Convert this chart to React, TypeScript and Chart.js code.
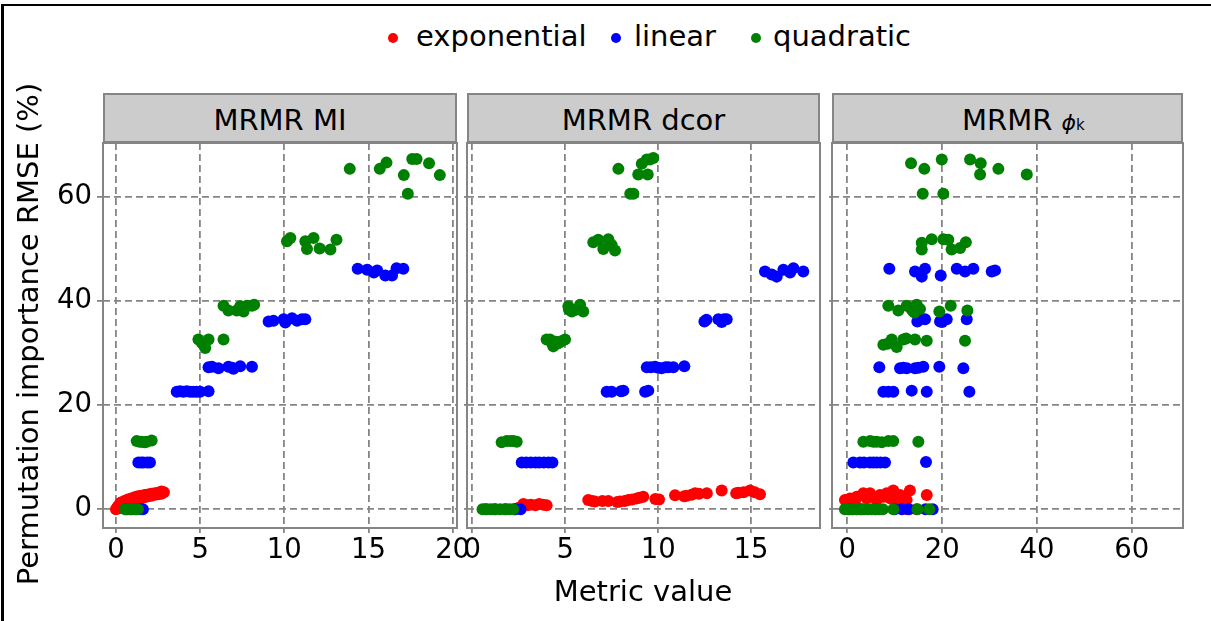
import React, { useEffect, useRef } from 'react';
import { Chart, registerables } from 'chart.js';

Chart.register(...registerables);

// ---------- data ----------
const seriesNames = ['exponential', 'linear', 'quadratic'];
const seriesColors = ['#ff0000', '#0000ff', '#008000'];

const yTicks = [0, 20, 40, 60];
const miXTicks = [0, 5, 10, 15, 20];
const dcorXTicks = [0, 5, 10, 15];
const phikXTicks = [0, 20, 40, 60];

const miExponential = [
  [0.0, 0.0], [0.1, 0.5], [0.2, 0.9], [0.2, 0.2], [0.3, 1.3], [0.3, 0.5], [0.5, 1.6], [0.5, 0.8],
  [0.7, 1.9], [0.7, 1.1], [0.9, 2.1], [0.9, 1.3], [1.1, 2.3], [1.1, 1.6], [1.3, 2.5], [1.3, 1.9],
  [1.5, 2.6], [1.5, 2.1], [1.7, 2.75], [1.7, 2.3], [1.9, 2.85], [1.9, 2.5], [2.1, 3.0], [2.1, 2.6],
  [2.3, 3.1], [2.3, 2.8], [2.5, 3.2], [2.5, 2.9], [2.7, 3.4], [2.7, 3.0], [2.85, 3.3],
];
const miLinear = [
  [0.6, 0], [0.9, 0], [1.2, 0], [1.45, 0], [1.6, 0],
  [1.33, 9.0], [1.5, 9.0], [1.63, 9.0], [1.85, 9.0], [2.02, 9.0],
  [3.61, 22.6], [3.8, 22.7], [4.0, 22.6], [4.2, 22.7], [4.4, 22.6], [4.6, 22.6], [4.8, 22.6], [5.0, 22.6], [5.5, 22.7],
  [5.5, 27.3], [5.7, 27.4], [6.09, 27.1], [6.68, 27.4], [6.9, 27.2], [6.98, 27.0], [7.38, 27.5], [8.08, 27.4],
  [9.07, 36.1], [9.36, 36.2], [9.96, 36.5], [10.06, 35.9], [10.46, 36.7], [10.76, 36.2], [11.05, 36.5], [11.25, 36.5],
  [14.36, 46.2], [14.92, 46.0], [15.32, 45.5], [15.52, 45.9], [16.0, 44.9], [16.4, 44.9], [16.67, 46.3], [17.07, 46.2],
];
const miQuadratic = [
  [0.55, 0], [0.7, 0], [0.85, 0], [1.0, 0], [1.15, 0], [1.3, 0],
  [1.23, 13.1], [1.4, 13.0], [1.53, 13.0], [1.7, 12.9], [1.83, 13.0], [2.12, 13.2],
  [4.9, 32.6], [5.1, 32.0], [5.2, 31.6], [5.3, 31.0], [5.5, 32.6], [6.39, 32.6],
  [6.39, 39.1], [6.68, 38.2], [7.18, 38.2], [7.38, 39.0], [7.58, 38.0], [7.78, 39.1], [8.08, 39.1], [8.21, 39.3],
  [10.16, 51.5], [10.36, 52.1], [11.25, 51.5], [11.35, 50.0], [11.74, 52.1], [12.1, 50.1], [12.74, 49.9], [13.1, 51.8],
  [13.89, 65.4], [15.67, 65.4], [16.07, 66.6], [17.1, 64.2], [17.6, 67.3], [17.86, 67.3], [18.6, 66.5], [19.24, 64.2], [17.34, 60.6],
];

const dcorExponential = [
  [2.3, 0], [2.5, 0.3], [2.75, 1.0], [2.95, 0.8], [3.15, 0.9], [3.4, 0.8], [3.6, 1.0], [3.8, 0.9], [4.0, 0.8],
  [6.24, 1.8], [6.45, 1.6], [6.6, 1.5], [7.0, 1.6], [7.32, 1.6], [7.8, 1.4], [7.95, 1.5], [8.2, 1.6], [8.4, 1.8],
  [8.6, 1.9], [8.85, 2.1], [9.0, 2.2], [9.2, 2.4], [9.85, 2.0], [10.05, 1.9], [10.91, 2.7], [11.4, 2.5],
  [11.54, 2.6], [11.8, 2.8], [11.99, 3.1], [12.2, 3.0], [12.62, 3.1], [13.42, 3.6], [14.2, 3.1], [14.32, 3.2],
  [14.6, 3.3], [14.95, 3.6], [15.2, 3.3], [15.48, 2.9],
];
const dcorLinear = [
  [0.7, 0], [1.2, 0], [1.8, 0], [2.3, 0], [2.6, 0],
  [2.66, 9.0], [2.9, 9.0], [3.15, 9.0], [3.4, 9.0], [3.6, 9.0], [3.85, 9.0], [4.1, 9.0], [4.31, 9.0],
  [7.23, 22.6], [7.5, 22.6], [8.0, 22.7], [8.13, 22.8], [9.3, 22.6], [9.47, 22.8],
  [9.39, 27.3], [9.6, 27.3], [9.83, 27.4], [10.0, 27.2], [10.19, 27.1], [10.4, 27.3], [10.55, 27.3], [10.82, 27.3], [11.41, 27.5],
  [12.49, 36.1], [12.6, 36.4], [13.24, 36.5], [13.42, 36.0], [13.55, 36.5], [13.69, 36.5],
  [15.75, 45.7], [16.11, 45.1], [16.38, 44.7], [16.74, 46.0], [17.1, 45.5], [17.28, 46.3], [17.81, 45.7],
];
const dcorQuadratic = [
  [0.55, 0], [0.8, 0], [1.0, 0], [1.25, 0], [1.5, 0], [1.75, 0], [2.0, 0], [2.2, 0],
  [1.58, 12.9], [1.85, 13.1], [2.05, 13.1], [2.21, 13.1], [2.39, 13.0],
  [4.0, 32.6], [4.18, 32.6], [4.3, 31.9], [4.36, 31.3], [4.5, 32.2], [4.63, 31.9], [4.8, 32.3], [4.99, 32.6],
  [5.17, 39.0], [5.2, 38.4], [5.35, 38.0], [5.53, 38.3], [5.8, 39.3], [5.97, 38.0],
  [6.51, 51.3], [6.78, 51.8], [7.05, 50.0], [7.32, 51.9], [7.5, 50.8], [7.68, 49.7],
  [7.86, 65.4], [8.5, 60.6], [8.67, 60.6], [8.93, 64.3], [9.12, 66.4], [9.39, 67.2], [9.44, 64.3], [9.56, 67.2], [9.74, 67.5],
];

const phikExponential = [
  [0, 0], [1, 0], [2, 0], [12.5, 0], [14.6, 0],
  [-0.5, 1.8], [0.57, 2.1], [1.6, 1.5], [1.98, 2.4], [3.38, 3.1], [4.1, 2.1], [4.79, 3.1], [5.5, 2.4],
  [6.2, 1.8], [6.9, 2.75], [7.6, 2.4], [8.31, 3.1], [9.0, 2.1], [9.7, 3.6], [10.4, 1.5], [11.1, 2.75],
  [11.8, 2.4], [12.5, 1.8], [13.2, 3.6], [16.75, 2.75],
];
const phikLinear = [
  [0.5, 0], [3, 0], [6, 0], [10, 0], [11.5, 0], [13, 0], [16.5, 0], [18.0, 0],
  [1.27, 9.0], [2.68, 9.0], [3.5, 9.0], [4.79, 9.0], [5.5, 9.0], [6.2, 9.0], [7.0, 9.0], [7.95, 9.0], [16.6, 9.1],
  [7.6, 22.6], [8.65, 22.6], [9.7, 22.6], [13.58, 22.8], [16.75, 22.6], [25.74, 22.6],
  [6.75, 27.3], [11.12, 27.1], [11.8, 27.2], [12.53, 27.1], [14.28, 27.1], [15.0, 27.2], [16.03, 27.4], [19.41, 27.4], [24.47, 27.1],
  [14.77, 36.1], [15.5, 36.6], [16.39, 36.5], [19.56, 36.1], [20.0, 36.0], [20.97, 36.5], [25.19, 36.5],
  [8.86, 46.2], [14.28, 45.7], [15.7, 44.7], [16.39, 46.2], [19.7, 44.9], [23.08, 46.2], [24.83, 45.7], [26.58, 46.2], [30.46, 45.7], [31.16, 45.9],
];
const phikQuadratic = [
  [-0.5, 0], [0.3, 0], [1.1, 0], [1.9, 0], [2.7, 0], [3.5, 0], [4.3, 0], [5.1, 0], [5.9, 0], [6.7, 0], [7.5, 0], [9.7, 0], [14.8, 0], [17.3, 0],
  [3.38, 13.0], [4.79, 13.1], [5.5, 13.0], [6.2, 13.0], [7.26, 12.9], [8.65, 13.1], [9.7, 13.1], [14.98, 13.0],
  [7.6, 31.6], [8.5, 31.8], [9.37, 32.6], [10.42, 31.2], [11.81, 32.6], [12.4, 32.8], [14.28, 32.6], [16.75, 32.4], [24.83, 32.4],
  [8.65, 39.1], [10.76, 38.2], [12.53, 39.1], [13.5, 38.5], [13.92, 38.0], [14.2, 37.8], [14.63, 39.3], [15.33, 38.5], [19.41, 38.0], [21.81, 39.1], [25.32, 38.2],
  [15.7, 51.2], [15.7, 49.9], [17.8, 51.9], [20.25, 51.9], [21.3, 51.8], [22.0, 49.9], [23.8, 50.2], [25.0, 51.3],
  [13.44, 66.5], [16.24, 65.4], [19.92, 67.2], [20.25, 60.6], [15.91, 60.6], [25.89, 67.2], [28.14, 66.5], [28.0, 64.3], [31.86, 65.4], [37.85, 64.3],
];

// ---------- layout / style ----------
const W = 1211;
const H = 621;
const PLOT_TOP = 143;
const PLOT_BOTTOM = 528;
const Y_MIN = -3.59;
const Y_MAX = 70.37;
const GRID = '#858585';
const FONT = '"DejaVu Sans", "Liberation Sans", sans-serif';

const panels = [
  { left: 103, right: 457, xMin: -0.77, xMax: 20.26, xTicks: miXTicks, series: [miExponential, miLinear, miQuadratic], showY: true },
  { left: 467, right: 820, xMin: -0.285, xMax: 18.71, xTicks: dcorXTicks, series: [dcorExponential, dcorLinear, dcorQuadratic], showY: false },
  { left: 832, right: 1183, xMin: -3.23, xMax: 70.8, xTicks: phikXTicks, series: [phikExponential, phikLinear, phikQuadratic], showY: false },
];

const framePlugin = {
  id: 'panelFrame',
  afterDatasetsDraw(chart: any) {
    const { ctx, chartArea } = chart;
    ctx.save();
    ctx.strokeStyle = GRID;
    ctx.lineWidth = 2;
    ctx.setLineDash([]);
    ctx.strokeRect(chartArea.left, chartArea.top, chartArea.right - chartArea.left, chartArea.bottom - chartArea.top);
    ctx.restore();
  },
};

function makeChart(canvas: HTMLCanvasElement, p: any) {
  const order = [3, 2, 1];
  return new Chart(canvas, {
    type: 'scatter',
    data: {
      datasets: p.series.map((s: number[][], i: number) => ({
        label: seriesNames[i],
        data: s.map(([x, y]) => ({ x, y })),
        backgroundColor: seriesColors[i],
        borderColor: seriesColors[i],
        pointRadius: 6,
        pointHoverRadius: 6,
        pointBorderWidth: 0,
        order: order[i],
      })),
    },
    options: {
      animation: false,
      responsive: false,
      events: [],
      layout: {
        padding: { left: p.showY ? 50 : p.left, right: W - p.right, top: PLOT_TOP, bottom: H - PLOT_BOTTOM - 50 },
      },
      plugins: { legend: { display: false }, tooltip: { enabled: false }, title: { display: false } },
      scales: {
        x: {
          type: 'linear',
          min: p.xMin,
          max: p.xMax,
          afterBuildTicks: (axis: any) => { axis.ticks = p.xTicks.map((v: number) => ({ value: v })); },
          afterFit: (axis: any) => { axis.height = 50; axis.paddingLeft = 0; axis.paddingRight = 0; },
          grid: { color: GRID, lineWidth: 1.8, tickLength: 5, tickColor: GRID, tickWidth: 1.8 },
          border: { display: false, dash: [7, 4] },
          ticks: { font: { family: FONT, size: 27.5 }, color: '#000', padding: 1, maxRotation: 0, autoSkip: false },
        },
        y: {
          type: 'linear',
          min: Y_MIN,
          max: Y_MAX,
          afterBuildTicks: (axis: any) => { axis.ticks = yTicks.map((v) => ({ value: v })); },
          afterFit: (axis: any) => { axis.width = p.showY ? 53 : 0; },
          grid: { color: GRID, lineWidth: 1.8, tickLength: p.showY ? 6 : 3, tickColor: GRID, tickWidth: 1.8 },
          border: { display: false, dash: [7, 4] },
          ticks: { display: p.showY, font: { family: FONT, size: 27.5 }, color: '#000', padding: 5, autoSkip: false },
        },
      },
    },
    plugins: [framePlugin],
  } as any);
}

export default function App() {
  const r0 = useRef<HTMLCanvasElement>(null);
  const r1 = useRef<HTMLCanvasElement>(null);
  const r2 = useRef<HTMLCanvasElement>(null);

  useEffect(() => {
    const refs = [r0, r1, r2];
    const charts = panels.map((p, i) => makeChart(refs[i].current as HTMLCanvasElement, p));
    return () => charts.forEach((c) => c.destroy());
  }, []);

  const canvasStyle: React.CSSProperties = { position: 'absolute', left: 0, top: 0, width: W, height: H };
  const textBase: React.CSSProperties = {
    position: 'absolute', fontFamily: FONT, fontSize: 29, lineHeight: '29px', color: '#000', whiteSpace: 'nowrap',
  };
  const stripStyle = (l: number, r: number): React.CSSProperties => ({
    position: 'absolute', left: l, top: 93, width: r - l, height: PLOT_TOP - 93, boxSizing: 'border-box',
    background: '#cccccc', border: `2px solid ${GRID}`,
  });
  const legendDot = (cx: number, color: string): React.CSSProperties => ({
    position: 'absolute', left: cx - 5, top: 33, width: 10, height: 10, borderRadius: '50%', background: color,
  });
  const legendTextLeft = [416, 634, 773];
  const legendDotX = [393, 616, 756];

  return (
    <div style={{ position: 'absolute', left: 0, top: 0, width: W, height: H, background: '#fff', overflow: 'hidden' }}>
      <div style={{ position: 'absolute', left: 1, top: 4, width: 2.5, height: H - 4, background: '#000' }} />
      <div style={{ position: 'absolute', left: 1, top: 4, width: W - 1, height: 2, background: '#000' }} />

      {seriesNames.map((n, i) => (
        <React.Fragment key={n}>
          <div style={legendDot(legendDotX[i], seriesColors[i])} />
          <div style={{ ...textBase, left: legendTextLeft[i], top: 22 }}>{n}</div>
        </React.Fragment>
      ))}

      <div style={stripStyle(103, 457)} />
      <div style={stripStyle(467, 820)} />
      <div style={stripStyle(832, 1183)} />
      <div style={{ ...textBase, left: 103, width: 354, textAlign: 'center', top: 105.5 }}>MRMR MI</div>
      <div style={{ ...textBase, left: 467, width: 353, textAlign: 'center', top: 105.5 }}>MRMR dcor</div>
      <div style={{ ...textBase, left: 962, top: 105.5 }}>
        MRMR <span style={{ fontStyle: 'italic', fontSize: 22 }}>ϕ</span>
        <span style={{ fontSize: 15 }}>k</span>
      </div>

      <canvas ref={r0} width={W} height={H} style={canvasStyle} />
      <canvas ref={r1} width={W} height={H} style={canvasStyle} />
      <canvas ref={r2} width={W} height={H} style={canvasStyle} />

      <div style={{ ...textBase, left: 103, width: 1080, textAlign: 'center', top: 577 }}>Metric value</div>
      <div
        style={{
          ...textBase, left: 13.8, top: 634, width: 600, textAlign: 'center',
          transformOrigin: '0 0', transform: 'rotate(-90deg)',
        }}
      >
        Permutation importance RMSE (%)
      </div>
    </div>
  );
}
